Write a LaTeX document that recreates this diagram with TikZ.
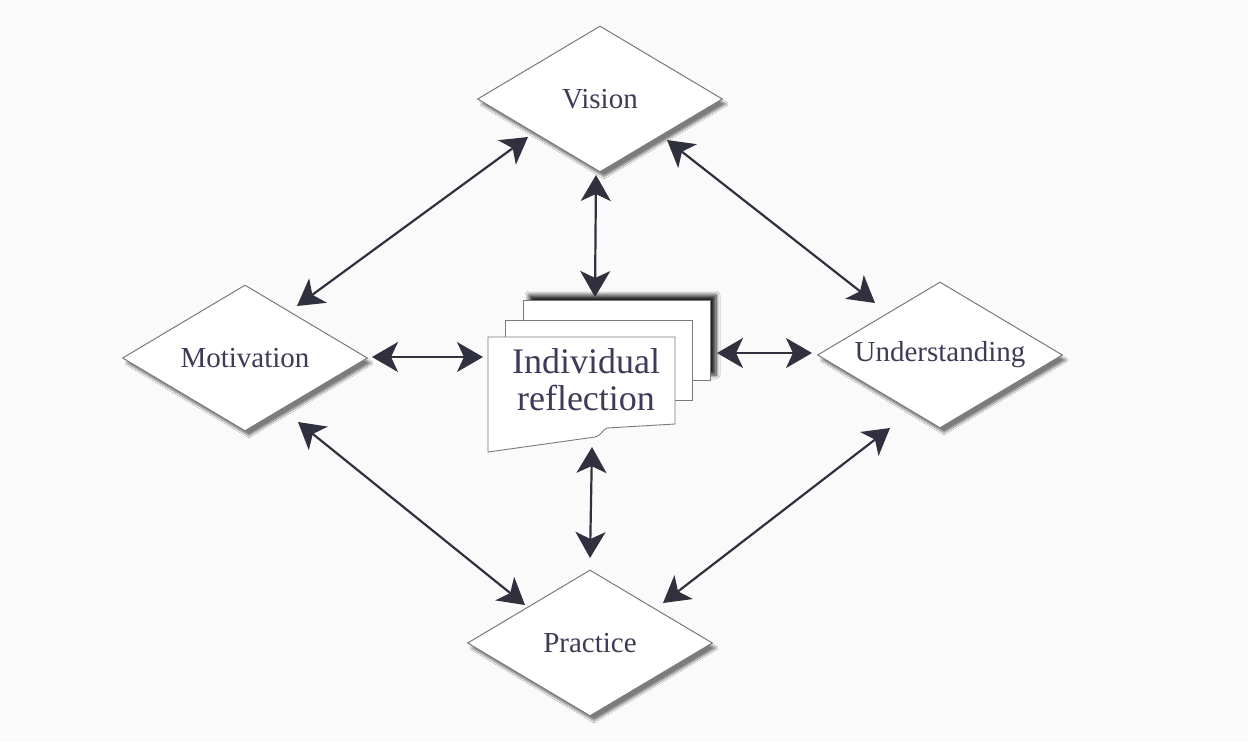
\documentclass[tikz,border=0pt]{standalone}
\usepackage{fontspec}
\setmainfont{Liberation Serif}
\usetikzlibrary{arrows.meta, shapes.geometric, calc, shadows.blur}
\definecolor{inkline}{HTML}{30303E}
\definecolor{inktext}{HTML}{3C3C58}
\definecolor{edgegray}{HTML}{7A7A7A}
\definecolor{paper}{HTML}{FAFAFA}
\tikzset{
    facet/.style={diamond, shape aspect=1.68, draw=edgegray, line width=1pt, fill=white, text=inktext,
      minimum width=245pt, minimum height=146pt, inner sep=0pt,
      font=\fontsize{29}{32}\selectfont,
      blur shadow={shadow xshift=4pt, shadow yshift=-5pt, shadow blur steps=8, shadow opacity=50}},
    sheet/.style={draw=edgegray, line width=0.9pt, fill=white},
    link/.style={draw=inkline, line width=2.2pt,
      {Stealth[length=26pt,width=30pt,inset=7pt]}-{Stealth[length=26pt,width=30pt,inset=7pt]}},
}
\begin{document}
\begin{tikzpicture}[x=1pt, y=-1pt]
    \fill[paper] (0,0) rectangle (1248,742);

    \node[facet] (vis) at (600,99) {Vision};
    \node[facet] (mot) at (245,358) {Motivation};
    \node[facet] (und) at (940,355) {Understanding};
    \node[facet] (prac) at (590,643) {Practice};

    % stack of pages in the middle
    \node[minimum width=222pt, minimum height=152pt, inner sep=0pt] (refl) at (599,376) {};
    \draw[sheet, blur shadow={shadow xshift=6pt, shadow yshift=5pt, shadow blur steps=8,
      shadow blur radius=4pt, shadow opacity=85}]
      (523,300) rectangle (710,380);
    \draw[sheet] (505,320) rectangle (692,400);
    \draw[sheet] (488,337) -- (675,337) -- (675,424) -- (607,428)
      .. controls (602,430) and (602,435) .. (595,437) -- (488,452) -- cycle;
    \node[text=inktext, align=center, font=\fontsize{36}{37}\selectfont] (refltxt) at (586,380) {Individual\\reflection};

    \draw[link] ($(vis)+(-72,38)$) -- ($(mot)+(52,-52)$);
    \draw[link] ($(vis)+(-4,76)$) -- ($(refl)+(-4,-79)$);
    \draw[link] ($(vis)+(67,41)$) -- ($(und)+(-65,-52)$);
    \draw[link] ($(mot)+(127,-1)$) -- ($(refl)+(-116,-19)$);
    \draw[link] ($(refl)+(118,-23)$) -- ($(und)+(-128,-2)$);
    \draw[link] ($(mot)+(53,64)$) -- ($(prac)+(-65,-38)$);
    \draw[link] ($(refl)+(-7,71)$) -- ($(prac)+(0,-85)$);
    \draw[link] ($(und)+(-50,73)$) -- ($(prac)+(73,-40)$);
\end{tikzpicture}
\end{document}
